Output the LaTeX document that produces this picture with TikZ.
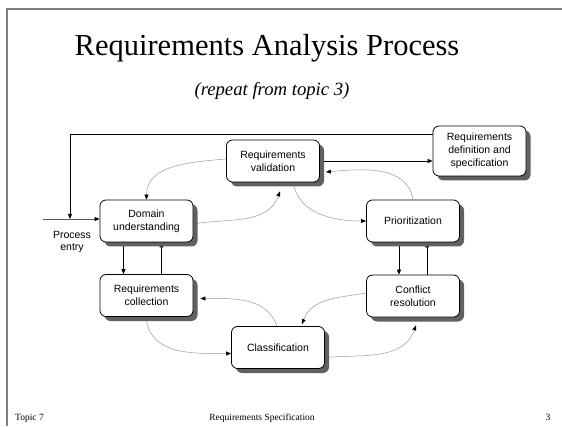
\documentclass[tikz,border=0pt]{standalone}
\usepackage{fontspec}
\setmainfont{Liberation Serif}
\newfontfamily\boxfont{Liberation Sans}
\usetikzlibrary{arrows.meta,shadows}
\pgfdeclarelayer{bg}
\pgfsetlayers{bg,main}

\begin{document}
\begin{tikzpicture}[x=1pt,y=1pt,
  stage/.style={draw=black, line width=0.8pt, rounded corners=6pt, fill=white,
    minimum width=93pt, minimum height=42pt, inner sep=0pt, align=center,
    font=\boxfont\fontsize{10.5}{13}\selectfont,
    drop shadow={shadow xshift=4.5pt, shadow yshift=-4.5pt, fill=black!62, opacity=1}},
  tip/.style={-{Triangle[length=5pt,width=4pt,color=black]}},
  flow/.style={draw=black!40, line width=0.5pt, tip},
  link/.style={draw=black, line width=0.8pt, tip},
]
\useasboundingbox (0,0) rectangle (562,426);

\begin{pgfonlayer}{bg}
  \fill[white] (0,0) rectangle (562,426);
  % slide frame
  \draw[black!50, line width=1.5pt] (7,0) -- (7,417) -- (562,417);
\end{pgfonlayer}

% headings
\node[font=\fontsize{30.5}{36}\selectfont, anchor=base] (title) at (267,370) {Requirements Analysis Process};
\node[font=\itshape\fontsize{18.7}{22}\selectfont, anchor=base] (sub) at (272,330) {(repeat from topic 3)};

% footer
\node[font=\fontsize{9.5}{11}\selectfont, anchor=base west, inner sep=0pt] (foot1) at (15,6) {Topic 7};
\node[font=\fontsize{9.5}{11}\selectfont, anchor=base, inner sep=0pt] (foot2) at (262,6) {Requirements Specification};
\node[font=\fontsize{9.5}{11}\selectfont, anchor=base, inner sep=0pt] (foot3) at (548,6) {3};

% process stages
\node[stage] (val) at (273,265) {Requirements\\validation};
\node[stage, minimum height=50pt] (def) at (479.5,275) {Requirements\\definition and\\specification};
\node[stage] (dom) at (146.5,205) {Domain\\understanding};
\node[stage] (pri) at (413,205) {Prioritization};
\node[stage] (col) at (146.5,130.5) {Requirements\\collection};
\node[stage] (con) at (413,130) {Conflict\\resolution};
\node[stage] (cla) at (278,78.5) {Classification};

\node[font=\boxfont\fontsize{10.5}{12}\selectfont, align=center] (entrylabel) at (72,184) {Process\\entry};

\coordinate (entry) at (43,207);
\coordinate (loop) at (70,292);
\coordinate (join) at (70,207);

\begin{pgfonlayer}{bg}
  % process entry and feedback loop
  \draw[draw=black!65, line width=0.8pt, tip] (entry) -- (entry -| dom.west);
  \draw[link] (def.west |- loop) -- (loop) -- (join);
  \draw[link] (val.east) -- (val.east -| def.west);

  % straight two-way links
  \draw[link] ([xshift=-23pt]dom.south) -- ([xshift=-23pt]col.north);
  \draw[link] ([xshift=15pt]col.north) -- ([xshift=15pt]dom.south);
  \draw[link] ([xshift=-14pt]pri.south) -- ([xshift=-14pt]con.north);
  \draw[link] ([xshift=14pt]con.north) -- ([xshift=14pt]pri.south);

  % curved cycle
  \draw[flow] ([yshift=2pt]val.west) to[out=185,in=90] (dom.north);
  \draw[flow] ([yshift=-3pt]dom.east) to[out=10,in=-110] ([xshift=7pt,yshift=-9pt]val.south);
  \draw[flow] ([xshift=20pt]val.south) to[out=-80,in=180] (pri.west);
  \draw[flow] (pri.north) to[out=100,in=5] ([xshift=6pt,yshift=-11pt]val.east);
  \draw[flow] ([yshift=3pt]con.west) to[out=190,in=70] ([xshift=24pt,yshift=2pt]cla.north);
  \draw[flow] ([yshift=-10pt]cla.east) to[out=5,in=-110] ([xshift=3pt,yshift=-8pt]con.south);
  \draw[flow] ([xshift=-1pt]cla.north) to[out=110,in=0] ([xshift=7pt,yshift=-3pt]col.east);
  \draw[flow] ([yshift=-4pt]col.south) to[out=-80,in=180] ([yshift=-6pt]cla.west);
\end{pgfonlayer}
\end{tikzpicture}
\end{document}
